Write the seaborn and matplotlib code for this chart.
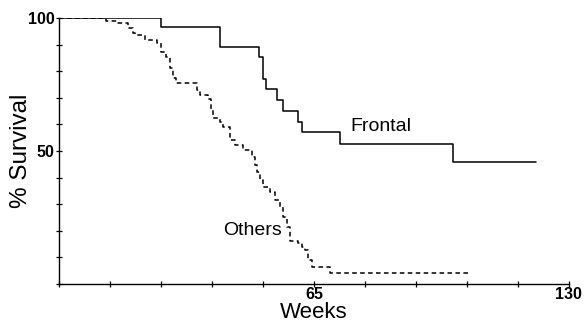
import numpy as np
import pandas as pd
import seaborn as sns
import matplotlib.pyplot as plt

# Kaplan-Meier style survival curves
frontal_weeks = [0, 26.0, 41.0, 51.0, 52.1, 52.9, 55.7, 57.0, 61.0, 61.9, 71.6, 100.4, 121.6]
frontal_surv = [100, 96.6, 89.0, 85.3, 77.1, 73.2, 69.2, 65.0, 60.9, 57.1, 52.6, 45.9, 45.9]

others_weeks = [0, 12.0, 15.0, 17.6, 18.9, 19.4, 21.9, 25.0, 26.0, 27.3, 28.3, 29.1, 29.8,
                35.2, 35.9, 38.0, 38.7, 39.3, 41.0, 41.8, 43.6, 44.9, 46.9, 49.2, 50.0,
                50.5, 51.2, 52.0, 53.8, 55.1, 56.3, 57.1, 58.1, 58.9, 60.9, 61.9, 62.7,
                63.5, 64.5, 69.1, 104.8]
others_surv = [100, 99.0, 98.0, 96.3, 94.4, 93.6, 91.7, 90.6, 87.2, 85.3, 81.2, 77.4, 75.6,
               72.9, 71.1, 69.5, 65.4, 62.4, 60.9, 59.0, 54.1, 52.3, 50.4, 47.7, 44.7,
               42.1, 39.1, 36.5, 34.6, 31.6, 28.9, 25.2, 21.4, 16.2, 15.4, 13.9, 12.8,
               9.0, 6.4, 4.1, 4.1]

x_ticks = list(range(0, 131, 13))
x_ticklabels = ['' if t not in (65, 130) else str(t) for t in x_ticks]
y_ticks = list(range(0, 101, 10))
y_ticklabels = ['' if t not in (50, 100) else str(t) for t in y_ticks]

frontal = pd.DataFrame({'Weeks': frontal_weeks, 'Survival': frontal_surv})
others = pd.DataFrame({'Weeks': others_weeks, 'Survival': others_surv})

sns.set_style('ticks')
plt.rcParams['font.family'] = ['Liberation Sans', 'DejaVu Sans']
plt.rcParams['text.color'] = 'black'
plt.rcParams['axes.labelcolor'] = 'black'

fig = plt.figure(figsize=(5.84, 3.24), dpi=100)
ax = fig.add_axes([0.101, 0.1235, 0.873, 0.8205])

sns.lineplot(data=others, x='Weeks', y='Survival', ax=ax, estimator=None,
             drawstyle='steps-post', color='black', lw=1.1, linestyle=(0, (3, 2.2)))
sns.lineplot(data=frontal, x='Weeks', y='Survival', ax=ax, estimator=None,
             drawstyle='steps-post', color='black', lw=1.1)

ax.set_xlim(0, 130)
ax.set_ylim(0, 100)
sns.despine(ax=ax)
for s in ['left', 'bottom']:
    ax.spines[s].set_linewidth(1.0)
    ax.spines[s].set_color('black')

ax.set_xticks(x_ticks)
ax.set_xticklabels(x_ticklabels, fontweight='bold')
ax.set_yticks(y_ticks)
ax.set_yticklabels(y_ticklabels, fontweight='bold')
ax.tick_params(axis='both', direction='inout', length=4, width=0.9, colors='black',
               labelsize=11.5)
ax.tick_params(axis='x', pad=0)
ax.tick_params(axis='y', pad=1)

ax.set_xlabel('Weeks', fontsize=16, va='bottom')
ax.xaxis.set_label_coords(0.5, -0.148)
ax.set_ylabel('% Survival', fontsize=17.5, va='center')
ax.yaxis.set_label_coords(-0.074, 0.5)

ax.text(74.2, 59.4, 'Frontal', fontsize=14, ha='left', va='center')
ax.text(41.8, 20.3, 'Others', fontsize=14, ha='left', va='center')

fig.savefig('out.png', dpi=100)
